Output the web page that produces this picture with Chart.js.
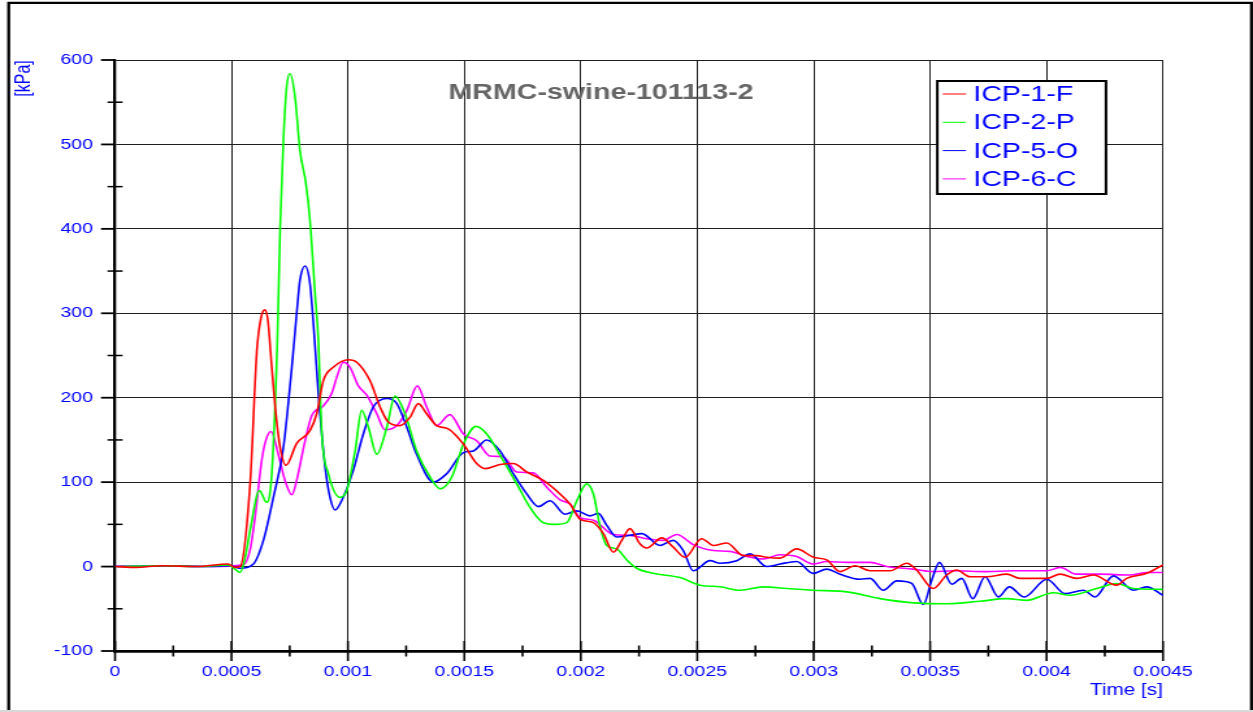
<!DOCTYPE html>
<html lang="en">
<head>
<meta charset="UTF-8">
<title>MRMC-swine-101113-2</title>
<script src="https://cdn.jsdelivr.net/npm/chart.js@4.4.0/dist/chart.umd.min.js"></script>
<style>
    body { margin: 0; background: #fff; }
</style>
</head>
<body>
<!-- drawn 964 wide and widened to 1253 by css: the original plot is stretched sideways -->
<canvas id="icpChart" width="964" height="712" style="display:block;width:1253px;height:712px"></canvas>
<script>
    // time in ms, pressure in kPa
    const icp1Ms = [0, 0.09, 0.2, 0.35, 0.485, 0.515, 0.537, 0.58, 0.609, 0.627, 0.644, 0.657, 0.673, 0.691, 0.709, 0.734, 0.78, 0.837, 0.866, 0.894, 0.937, 1.002, 1.038, 1.095, 1.138, 1.174, 1.224, 1.267, 1.302, 1.338, 1.381, 1.431, 1.496, 1.553, 1.589, 1.653, 1.71, 1.768, 1.839, 1.911, 1.954, 1.997, 2.054, 2.097, 2.14, 2.176, 2.211, 2.254, 2.283, 2.348, 2.397, 2.448, 2.519, 2.569, 2.627, 2.698, 2.755, 2.798, 2.855, 2.927, 2.999, 3.056, 3.113, 3.178, 3.242, 3.328, 3.4, 3.442, 3.514, 3.571, 3.614, 3.671, 3.743, 3.829, 3.886, 4.001, 4.058, 4.129, 4.201, 4.301, 4.344, 4.43, 4.5];
    const icp1Kpa = [0, -1, 1, 0, 3, -1, 0, 98, 256, 295, 304, 290, 236, 180, 141, 120, 146, 161, 181, 220, 236, 245, 242, 220, 189, 171, 167, 177, 193, 181, 167, 163, 145, 122, 116, 121, 122, 112, 102, 86, 74, 56, 52, 39, 17, 31, 45, 27, 22, 34, 23, 11, 33, 25, 28, 13, 13, 11, 10, 21, 11, 8, -6, 1, -5, -5, 4, -4, -26, -10, -4, -12, -12, -9, -14, -14, -9, -14, -10, -22, -14, -8, 2];

    const icp2Ms = [0, 0.2, 0.365, 0.485, 0.515, 0.537, 0.558, 0.58, 0.62, 0.651, 0.673, 0.697, 0.709, 0.723, 0.737, 0.751, 0.773, 0.794, 0.82, 0.837, 0.859, 0.873, 0.888, 0.916, 0.966, 0.995, 1.031, 1.059, 1.088, 1.124, 1.167, 1.202, 1.245, 1.295, 1.353, 1.396, 1.446, 1.496, 1.55, 1.596, 1.653, 1.725, 1.782, 1.839, 1.897, 1.94, 1.983, 2.025, 2.054, 2.083, 2.111, 2.154, 2.197, 2.24, 2.311, 2.426, 2.512, 2.598, 2.684, 2.784, 2.884, 2.998, 3.142, 3.285, 3.428, 3.571, 3.714, 3.829, 3.915, 4.029, 4.101, 4.215, 4.301, 4.373, 4.5];
    const icp2Kpa = [0, 1, 0, 2, -3, -7, 10, 43, 90, 76, 110, 268, 402, 505, 568, 584, 556, 493, 453, 410, 323, 268, 157, 110, 82, 90, 137, 185, 165, 133, 165, 202, 181, 137, 106, 92, 106, 145, 166, 157, 132, 98, 70, 52, 50, 52, 78, 98, 86, 47, 25, 21, 8, -2, -8, -13, -22, -24, -28, -24, -26, -28, -30, -38, -43, -44, -41, -38, -40, -31, -34, -26, -20, -26, -27];

    const icp5Ms = [0, 0.2, 0.4, 0.494, 0.537, 0.594, 0.637, 0.68, 0.723, 0.759, 0.78, 0.794, 0.816, 0.837, 0.856, 0.873, 0.902, 0.923, 0.945, 0.973, 1.023, 1.066, 1.109, 1.167, 1.21, 1.253, 1.295, 1.367, 1.424, 1.496, 1.539, 1.596, 1.653, 1.71, 1.768, 1.818, 1.868, 1.932, 1.983, 2.04, 2.075, 2.111, 2.154, 2.211, 2.262, 2.34, 2.397, 2.44, 2.483, 2.555, 2.598, 2.67, 2.727, 2.798, 2.855, 2.927, 2.998, 3.056, 3.113, 3.199, 3.242, 3.299, 3.357, 3.421, 3.471, 3.507, 3.54, 3.593, 3.636, 3.683, 3.736, 3.793, 3.84, 3.904, 4.001, 4.079, 4.158, 4.208, 4.287, 4.373, 4.43, 4.5];
    const icp5Kpa = [0, 1, 0, 1, -2, 3, 31, 82, 141, 236, 300, 339, 356, 335, 272, 205, 118, 82, 67, 78, 114, 157, 189, 199, 193, 165, 133, 100, 110, 135, 137, 150, 137, 110, 86, 71, 78, 62, 66, 60, 63, 49, 35, 37, 39, 25, 31, 19, -5, 7, 4, 7, 15, 0, 3, 6, -8, -3, -9, -15, -14, -28, -17, -20, -45, -16, 5, -21, -14, -38, -12, -36, -24, -36, -15, -32, -28, -36, -11, -28, -24, -34];

    const icp6Ms = [0, 0.1, 0.2, 0.4, 0.551, 0.58, 0.601, 0.63, 0.648, 0.67, 0.701, 0.73, 0.759, 0.78, 0.816, 0.845, 0.894, 0.93, 0.953, 0.98, 1.009, 1.045, 1.081, 1.124, 1.159, 1.21, 1.253, 1.298, 1.338, 1.381, 1.438, 1.496, 1.553, 1.61, 1.667, 1.725, 1.796, 1.854, 1.911, 1.954, 1.997, 2.054, 2.14, 2.211, 2.283, 2.354, 2.412, 2.483, 2.569, 2.641, 2.712, 2.784, 2.855, 2.927, 2.998, 3.056, 3.142, 3.242, 3.314, 3.428, 3.514, 3.6, 3.743, 3.857, 4.001, 4.058, 4.129, 4.229, 4.358, 4.43, 4.5];
    const icp6Kpa = [1, 0, 1, 0, 2, 20, 58, 126, 150, 160, 133, 102, 85, 102, 149, 179, 190, 205, 225, 242, 236, 214, 203, 181, 162, 167, 185, 214, 189, 167, 180, 157, 149, 131, 130, 112, 111, 94, 79, 74, 58, 55, 38, 37, 33, 31, 38, 26, 19, 18, 12, 9, 14, 12, 3, 6, 5, 5, 0, -3, -6, -5, -6, -5, -5, -1, -9, -9, -10, -7, -7];

    const seriesNames = ['ICP-1-F', 'ICP-2-P', 'ICP-5-O', 'ICP-6-C'];
    const seriesColors = ['#ff0000', '#00ff00', '#0000ff', '#ff00ff'];
    const xMin = 0, xMax = 0.0045, xStep = 0.0005;
    const yMin = -100, yMax = 600, yStep = 100;

    const toPoints = (ms, kpa) => ms.map((t, i) => ({ x: t / 1000, y: kpa[i] }));
    const allSeries = [[icp1Ms, icp1Kpa], [icp2Ms, icp2Kpa], [icp5Ms, icp5Kpa], [icp6Ms, icp6Kpa]];

    const blue = '#0000ff';
    Chart.defaults.font.family = "'Liberation Sans', Arial, sans-serif";

    const decorations = {
        id: 'decorations',
        afterDraw(chart) {
            const { ctx, chartArea: area, scales: { x, y } } = chart;
            const seg = (x1, y1, x2, y2) => {
                ctx.beginPath();
                ctx.moveTo(x1, y1);
                ctx.lineTo(x2, y2);
                ctx.stroke();
            };
            ctx.save();
            ctx.strokeStyle = '#000';

            // y axis: major ticks outside, minor ticks across the axis
            ctx.lineWidth = 1.8;
            y.ticks.forEach(t => {
                const py = y.getPixelForValue(t.value);
                seg(area.left - 10.8, py, area.left, py);
            });
            ctx.lineWidth = 1.5;
            for (let v = yMin + yStep / 2; v < yMax; v += yStep) {
                const py = y.getPixelForValue(v);
                seg(area.left - 5.8, py, area.left + 5.8, py);
            }

            // x axis: both kinds cross the axis
            ctx.lineWidth = 1.6;
            x.ticks.forEach(t => {
                const px = x.getPixelForValue(t.value);
                seg(px, area.bottom - 10, px, area.bottom + 10);
            });
            for (let v = xMin + xStep / 2; v < xMax; v += xStep) {
                const px = x.getPixelForValue(v);
                seg(px, area.bottom - 5.5, px, area.bottom + 5.5);
            }

            // outer frame (no bottom edge)
            ctx.lineWidth = 2.3;
            ctx.beginPath();
            ctx.moveTo(6.7, 712);
            ctx.lineTo(6.7, 2.8);
            ctx.lineTo(962.8, 2.8);
            ctx.lineTo(962.8, 712);
            ctx.stroke();
            ctx.fillStyle = '#d8d8d8';
            ctx.fillRect(0, 710, 964, 2);

            // title
            ctx.fillStyle = '#666666';
            ctx.font = "bold 22px 'Liberation Sans', Arial, sans-serif";
            ctx.textAlign = 'center';
            ctx.textBaseline = 'middle';
            ctx.fillText('MRMC-swine-101113-2', 462.4, 93);

            // axis titles
            ctx.fillStyle = blue;
            ctx.font = "16px 'Liberation Sans', Arial, sans-serif";
            ctx.textAlign = 'right';
            ctx.fillText('Time [s]', area.right, 691);
            ctx.save();
            ctx.translate(18.5, 78.5);
            ctx.rotate(-Math.PI / 2);
            ctx.textAlign = 'center';
            ctx.fillText('[kPa]', 0, 0);
            ctx.restore();

            // legend box
            const bx = 721.1, by = 81, bw = 129.8, bh = 113;
            ctx.fillStyle = '#fff';
            ctx.fillRect(bx, by, bw, bh);
            ctx.lineWidth = 2;
            ctx.strokeStyle = '#000';
            ctx.strokeRect(bx, by, bw, bh);
            ctx.font = "22px 'Liberation Sans', Arial, sans-serif";
            ctx.textAlign = 'left';
            chart.data.datasets.forEach((ds, i) => {
                const ry = 94 + i * 28.3;
                ctx.strokeStyle = ds.borderColor;
                ctx.lineWidth = 1;
                seg(725.3, ry, 743.2, ry);
                ctx.fillStyle = blue;
                ctx.fillText(ds.label, 748.8, ry + 1);
            });
            ctx.restore();
        }
    };

    new Chart(document.getElementById('icpChart'), {
        type: 'line',
        data: {
            datasets: allSeries.map(([ms, kpa], i) => ({
                label: seriesNames[i],
                data: toPoints(ms, kpa),
                borderColor: seriesColors[i],
                borderWidth: 1.6,
                pointRadius: 0,
                cubicInterpolationMode: 'monotone',
                fill: false
            }))
        },
        options: {
            responsive: false,
            animation: false,
            layout: { padding: { top: 60, right: 69.25, left: 0, bottom: 0 } },
            plugins: {
                legend: { display: false },
                tooltip: { enabled: false }
            },
            scales: {
                x: {
                    type: 'linear',
                    min: xMin,
                    max: xMax,
                    afterFit: s => { s.height = 61; },
                    border: { color: '#000', width: 2.7 },
                    grid: { color: '#1e1e1e', lineWidth: 1, drawTicks: false },
                    ticks: {
                        stepSize: xStep,
                        padding: 12,
                        color: blue,
                        font: { size: 15 },
                        maxRotation: 0,
                        autoSkip: false,
                        callback: v => String(+v.toFixed(6))
                    }
                },
                y: {
                    min: yMin,
                    max: yMax,
                    afterFit: s => { s.width = 88.5; },
                    border: { color: '#000', width: 2.3 },
                    grid: { color: '#1e1e1e', lineWidth: 1, drawTicks: false },
                    ticks: {
                        stepSize: yStep,
                        padding: 17,
                        color: blue,
                        font: { size: 15 }
                    }
                }
            }
        },
        plugins: [decorations]
    });
</script>
</body>
</html>
